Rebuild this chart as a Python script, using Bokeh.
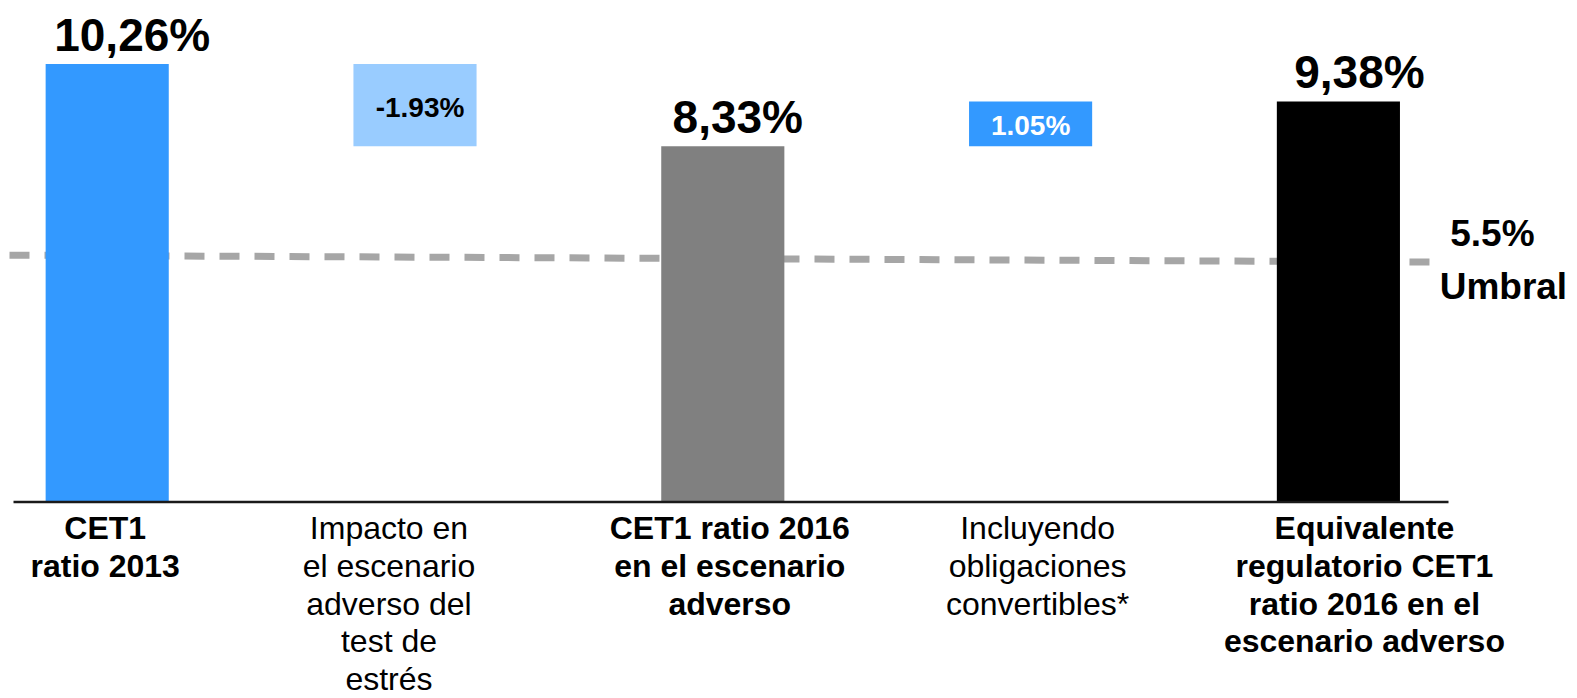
from bokeh.plotting import figure
from bokeh.models import ColumnDataSource, Range1d
from bokeh.core.properties import value
from bokeh.embed import file_html
from bokeh.resources import INLINE

# ---------------- data ----------------
categories = [
    "CET1\nratio 2013",
    "Impacto en\nel escenario\nadverso del\ntest de\nestrés",
    "CET1 ratio 2016\nen el escenario\nadverso",
    "Incluyendo\nobligaciones\nconvertibles*",
    "Equivalente\nregulatorio CET1\nratio 2016 en el\nescenario adverso",
]
kinds = ["total", "delta", "total", "delta", "total"]
values = [10.26, -1.93, 8.33, 1.05, 9.38]
value_texts = ["10,26%", "-1.93%", "8,33%", "1.05%", "9,38%"]
threshold = 5.5
threshold_texts = ["5.5%", "Umbral"]

# ---------------- layout / style ----------------
W, H = 1577, 698
PX_X = 307.8          # pixels per category step
X0_PX = 106.7         # pixel position of first category centre
PX_Y = 42.7           # pixels per percentage point
Y0_PX = 501.5         # pixel position of 0 %

def xd(px):
    return (px - X0_PX) / PX_X

def yd(py):
    return (Y0_PX - py) / PX_Y

bar_w = 0.40
total_colors = ["#3399FF", None, "#808080", None, "#000000"]
delta_colors = {"neg": "#99CCFF", "pos": "#3399FF"}
total_label_dx = [25, 0, 15, 0, 21]
delta_label_dx = [0, 5, 0, 0, 0]
cat_label_dx = [-2, -26, 7, 7, 26]
FONT = value("Liberation Sans")

p = figure(width=W, height=H, output_backend="svg", toolbar_location=None,
           x_range=Range1d(xd(0), xd(W)), y_range=Range1d(yd(H), yd(0)),
           x_axis_location=None, y_axis_location=None, min_border=0,
           background_fill_color="white", border_fill_color="white")
p.outline_line_color = None
p.grid.visible = False

# waterfall geometry from the data
xs = list(range(len(values)))
bottoms, tops = [], []
prev_total = 0.0
for k, v in zip(kinds, values):
    if k == "total":
        bottoms.append(0.0)
        tops.append(v)
        prev_total = v
    else:
        end = prev_total + v
        bottoms.append(min(prev_total, end))
        tops.append(max(prev_total, end))
        prev_total = end

# threshold dashed line (behind bars)
p.segment(x0=[xd(9)], y0=[threshold + 0.28], x1=[xd(1438)], y1=[threshold + 0.12],
          line_color="#A6A6A6", line_width=7, line_dash="20 15", line_cap="butt")

# total bars
t_idx = [i for i, k in enumerate(kinds) if k == "total"]
src_t = ColumnDataSource(dict(
    x=[xs[i] for i in t_idx], top=[tops[i] for i in t_idx], bottom=[bottoms[i] for i in t_idx],
    color=[total_colors[i] for i in t_idx], label=[value_texts[i] for i in t_idx],
    dx=[total_label_dx[i] for i in t_idx]))
p.vbar(x="x", top="top", bottom="bottom", width=bar_w, fill_color="color",
       line_color=None, source=src_t)
p.text(x="x", y="top", text="label", x_offset="dx", y_offset=-29, source=src_t,
       text_align="center", text_baseline="alphabetic", text_font=FONT,
       text_font_style="bold", text_font_size="46px", text_color="black")

# delta boxes
d_idx = [i for i, k in enumerate(kinds) if k == "delta"]
src_d = ColumnDataSource(dict(
    x=[xs[i] for i in d_idx], top=[tops[i] for i in d_idx], bottom=[bottoms[i] for i in d_idx],
    mid=[(tops[i] + bottoms[i]) / 2 for i in d_idx],
    color=[delta_colors["neg"] if values[i] < 0 else delta_colors["pos"] for i in d_idx],
    tcolor=["black" if values[i] < 0 else "white" for i in d_idx],
    label=[value_texts[i] for i in d_idx], dx=[delta_label_dx[i] for i in d_idx]))
p.vbar(x="x", top="top", bottom="bottom", width=bar_w, fill_color="color",
       line_color=None, source=src_d)
p.text(x="x", y="mid", text="label", x_offset="dx", y_offset=2, source=src_d,
       text_align="center", text_baseline="middle", text_font=FONT,
       text_font_style="bold", text_font_size="28px", text_color="tcolor")

# baseline
p.segment(x0=[xd(13)], y0=[0], x1=[xd(1448)], y1=[0], line_color="#1a1a1a", line_width=2.5)

# category labels
for style, sel in (("bold", t_idx), ("normal", d_idx)):
    src_c = ColumnDataSource(dict(x=[xs[i] for i in sel], y=[0] * len(sel),
                                  label=[categories[i] for i in sel],
                                  dx=[cat_label_dx[i] for i in sel]))
    p.text(x="x", y="y", text="label", x_offset="dx", y_offset=8, source=src_c,
           text_align="center", text_baseline="top", text_line_height=1.05,
           text_font=FONT, text_font_style=style, text_font_size="32px",
           text_color="black")

# threshold labels
last = xs[-1]
p.text(x=[last, last], y=[threshold, threshold], text=threshold_texts,
       x_offset=[154, 165], y_offset=[-34, 19],
       text_align="center", text_baseline="alphabetic", text_font=FONT,
       text_font_style="bold", text_font_size="37px", text_color="black")

open("out.html", "w").write(file_html(p, INLINE))
